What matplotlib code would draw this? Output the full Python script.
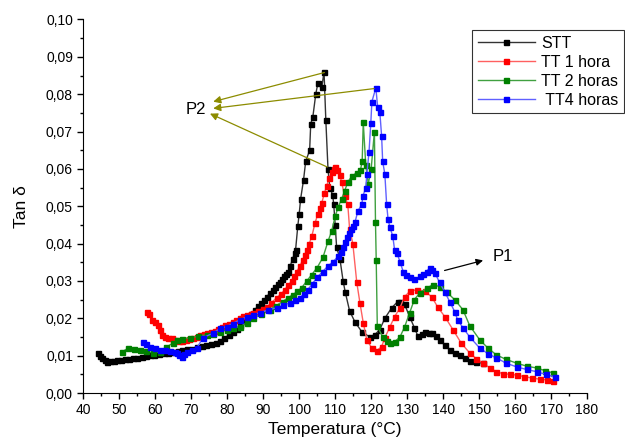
import matplotlib
matplotlib.use("Agg")
import matplotlib.pyplot as plt
from matplotlib.ticker import MultipleLocator, FuncFormatter

plt.rcParams["font.family"] = ["Liberation Sans", "DejaVu Sans"]

# STT
stt_t = [44.1, 44.6, 45.2, 45.9, 46.6, 47.5, 48.4, 49.3, 50.5, 51.6, 52.7, 53.8, 55.0, 56.2,
         57.4, 58.5, 59.7, 61.0, 62.3, 63.6, 64.9, 66.2, 67.5, 68.9, 70.3, 71.6, 72.9, 74.2,
         75.5, 76.8, 78.0, 79.2, 80.4, 81.5, 82.6, 83.6, 84.6, 85.6, 86.6, 87.6, 88.5, 89.3,
         90.1, 91.0, 91.9, 92.6, 93.3, 94.0, 94.6, 95.2, 95.8, 96.4, 96.9, 97.5, 98.2, 98.7,
         99.0, 99.6, 100.0, 100.4, 101.2, 101.8, 102.9, 103.2, 103.8, 104.6, 105.2, 106.3,
         106.9, 107.4, 108.0, 108.5, 109.3, 109.6, 110.0, 110.4, 111.3, 112.2, 112.8, 114.0,
         115.5, 117.4, 119.6, 121.0, 122.4, 123.8, 125.7, 127.4, 128.0, 129.3, 130.7, 132.0,
         133.0, 134.0, 134.9, 136.0, 136.8, 138.0, 139.0, 140.5, 141.8, 143.2, 144.6, 146.0,
         147.4, 149.0, 151.0]
stt_v = [0.0107, 0.0100, 0.0094, 0.0088, 0.0084, 0.0085, 0.0087, 0.0088, 0.0089, 0.0090,
         0.0092, 0.0093, 0.0095, 0.0097, 0.0099, 0.0101, 0.0103, 0.0104, 0.0106, 0.0108,
         0.0110, 0.0112, 0.0114, 0.0117, 0.0119, 0.0122, 0.0125, 0.0128, 0.0131, 0.0135,
         0.0140, 0.0147, 0.0155, 0.0163, 0.0172, 0.0182, 0.0192, 0.0201, 0.0211, 0.0222,
         0.0232, 0.0240, 0.0248, 0.0258, 0.0268, 0.0276, 0.0284, 0.0291, 0.0298, 0.0305,
         0.0312, 0.0318, 0.0325, 0.0340, 0.0360, 0.0374, 0.0384, 0.0446, 0.0480, 0.0520,
         0.0570, 0.0620, 0.0650, 0.0720, 0.0740, 0.0800, 0.0830, 0.0820, 0.0860, 0.0730,
         0.0600, 0.0550, 0.0530, 0.0505, 0.0450, 0.0390, 0.0360, 0.0300, 0.0270, 0.0220,
         0.0190, 0.0164, 0.0150, 0.0156, 0.0170, 0.0200, 0.0228, 0.0245, 0.0245, 0.0237,
         0.0204, 0.0175, 0.0152, 0.0158, 0.0164, 0.0162, 0.0160, 0.0152, 0.0142, 0.0128,
         0.0116, 0.0108, 0.0102, 0.0093, 0.0086, 0.0083, 0.0080]

# TT 1 hora
tt1_t = [57.7, 58.3, 59.0, 59.8, 60.8, 61.4, 62.0, 62.8, 63.5, 64.7, 65.5, 66.5, 67.5, 68.5,
         69.5, 70.5, 71.5, 72.5, 73.5, 74.5, 75.5, 76.5, 77.5, 78.5, 79.5, 80.5, 81.5, 82.5,
         83.5, 84.5, 85.5, 86.5, 87.2, 88.5, 89.8, 91.0, 92.3, 93.7, 95.0, 96.0, 97.0, 97.9,
         98.6, 99.3, 100.2, 101.0, 101.6, 102.1, 102.8, 103.5, 104.4, 105.2, 105.8, 106.3,
         107.0, 107.6, 108.3, 109.0, 109.6, 110.0, 110.6, 111.2, 111.8, 112.6, 113.5, 114.0,
         114.9, 116.0, 116.9, 117.8, 118.8, 120.2, 121.5, 122.9, 123.8, 125.2, 126.5, 128.0,
         129.3, 130.7, 132.7, 134.9, 136.8, 138.5, 140.5, 142.7, 145.0, 147.4, 149.2, 151.0,
         152.9, 154.8, 156.6, 158.5, 160.4, 162.5, 164.7, 166.9, 168.8, 170.5]
tt1_v = [0.0218, 0.0212, 0.0196, 0.0190, 0.0183, 0.0170, 0.0156, 0.0150, 0.0148, 0.0148,
         0.0142, 0.0140, 0.0140, 0.0142, 0.0145, 0.0148, 0.0151, 0.0154, 0.0157, 0.0160,
         0.0163, 0.0167, 0.0171, 0.0176, 0.0181, 0.0186, 0.0191, 0.0196, 0.0201, 0.0205,
         0.0209, 0.0212, 0.0215, 0.0220, 0.0225, 0.0230, 0.0242, 0.0255, 0.0265, 0.0277,
         0.0289, 0.0300, 0.0312, 0.0325, 0.0340, 0.0357, 0.0370, 0.0384, 0.0400, 0.0420,
         0.0455, 0.0480, 0.0495, 0.0510, 0.0535, 0.0554, 0.0575, 0.0592, 0.0600, 0.0605,
         0.0598, 0.0585, 0.0565, 0.0527, 0.0505, 0.0440, 0.0400, 0.0296, 0.0240, 0.0188,
         0.0142, 0.0120, 0.0113, 0.0124, 0.0148, 0.0177, 0.0204, 0.0228, 0.0258, 0.0272,
         0.0277, 0.0272, 0.0258, 0.0230, 0.0204, 0.0170, 0.0134, 0.0107, 0.0092, 0.0080,
         0.0068, 0.0057, 0.0052, 0.0050, 0.0048, 0.0044, 0.0040, 0.0037, 0.0035, 0.0033]

# TT 2 horas
tt2_t = [50.8, 52.4, 54.0, 55.7, 57.5, 59.4, 61.3, 63.0, 64.9, 66.0, 67.5, 69.6, 72.0, 74.4,
         76.0, 78.0, 79.9, 81.5, 83.5, 85.4, 87.2, 89.5, 91.8, 93.6, 95.4, 96.8, 98.2, 99.5,
         100.7, 102.1, 103.5, 105.0, 106.6, 108.0, 109.0, 110.0, 110.8, 111.8, 112.6, 113.5,
         114.6, 116.0, 117.0, 117.5, 117.8, 118.5, 119.2, 120.0, 120.9, 121.2, 121.4, 121.7,
         123.2, 124.3, 125.2, 126.5, 128.0, 129.3, 130.7, 132.0, 133.5, 135.4, 137.1, 139.0,
         141.0, 143.2, 145.5, 147.4, 150.2, 152.5, 154.8, 157.5, 160.4, 163.2, 166.0, 168.3,
         170.5]
tt2_v = [0.0110, 0.0120, 0.0118, 0.0116, 0.0112, 0.0107, 0.0110, 0.0122, 0.0134, 0.0142,
         0.0145, 0.0148, 0.0152, 0.0156, 0.0158, 0.0164, 0.0170, 0.0173, 0.0177, 0.0188,
         0.0200, 0.0212, 0.0223, 0.0234, 0.0245, 0.0254, 0.0263, 0.0272, 0.0282, 0.0300,
         0.0317, 0.0336, 0.0363, 0.0406, 0.0433, 0.0473, 0.0497, 0.0520, 0.0540, 0.0565,
         0.0580, 0.0590, 0.0596, 0.0620, 0.0725, 0.0610, 0.0560, 0.0600, 0.0700, 0.0457,
         0.0357, 0.0180, 0.0150, 0.0138, 0.0134, 0.0137, 0.0150, 0.0177, 0.0215, 0.0250,
         0.0268, 0.0280, 0.0290, 0.0285, 0.0270, 0.0250, 0.0223, 0.0180, 0.0142, 0.0120,
         0.0102, 0.0090, 0.0080, 0.0072, 0.0067, 0.0060, 0.0054]

# TT4 horas
tt4_t = [56.6, 57.5, 58.5, 59.9, 61.3, 62.7, 64.0, 65.5, 66.0, 66.7, 67.4, 68.1, 68.8, 70.1,
         71.5, 73.3, 76.0, 78.0, 79.9, 81.5, 83.5, 85.5, 87.2, 89.0, 91.3, 93.7, 95.6, 97.4,
         98.8, 100.2, 101.3, 102.4, 103.7, 105.0, 106.5, 108.0, 109.5, 110.8, 111.5, 112.2,
         112.7, 113.2, 113.8, 114.3, 114.9, 115.5, 116.3, 117.4, 117.7, 118.5, 118.8, 119.4,
         119.9, 120.2, 121.3, 121.8, 122.4, 122.9, 123.2, 123.8, 124.3, 124.7, 125.2, 126.0,
         126.5, 127.1, 128.0, 128.9, 129.8, 130.7, 132.0, 133.5, 134.5, 135.4, 136.3, 137.0,
         137.7, 139.0, 140.5, 141.8, 143.2, 144.0, 145.5, 147.4, 150.2, 152.5, 154.8, 157.5,
         160.4, 163.2, 166.0, 168.5, 171.0]
tt4_v = [0.0137, 0.0130, 0.0124, 0.0120, 0.0116, 0.0114, 0.0112, 0.0110, 0.0107, 0.0102,
         0.0097, 0.0104, 0.0110, 0.0115, 0.0120, 0.0148, 0.0160, 0.0173, 0.0178, 0.0186,
         0.0196, 0.0204, 0.0210, 0.0215, 0.0222, 0.0228, 0.0235, 0.0242, 0.0248, 0.0255,
         0.0266, 0.0277, 0.0293, 0.0310, 0.0325, 0.0340, 0.0352, 0.0366, 0.0378, 0.0390,
         0.0404, 0.0417, 0.0428, 0.0438, 0.0448, 0.0457, 0.0487, 0.0505, 0.0527, 0.0550,
         0.0586, 0.0645, 0.0723, 0.0780, 0.0817, 0.0766, 0.0753, 0.0688, 0.0620, 0.0586,
         0.0505, 0.0465, 0.0444, 0.0420, 0.0384, 0.0376, 0.0352, 0.0325, 0.0315, 0.0310,
         0.0304, 0.0312, 0.0318, 0.0325, 0.0336, 0.0328, 0.0322, 0.0296, 0.0270, 0.0245,
         0.0218, 0.0196, 0.0175, 0.0150, 0.0120, 0.0105, 0.0094, 0.0080, 0.0070, 0.0063,
         0.0057, 0.0050, 0.0043]

fig = plt.figure(figsize=(6.25, 4.46), dpi=100)
ax = fig.add_axes([0.1333, 0.1188, 0.806, 0.8375])

ms = 3.6
ax.plot(stt_t, stt_v, "-s", color="#333333", lw=1, ms=ms, mfc="black", mec="black", label="STT")
ax.plot(tt1_t, tt1_v, "-s", color="#ff6060", lw=1, ms=ms, mfc="red", mec="red", label="TT 1 hora")
ax.plot(tt2_t, tt2_v, "-s", color="#40a040", lw=1, ms=ms, mfc="green", mec="green", label="TT 2 horas")
ax.plot(tt4_t, tt4_v, "-s", color="#6060ff", lw=1, ms=ms, mfc="blue", mec="blue", label=" TT4 horas")

ax.set_xlim(40, 180)
ax.set_ylim(0, 0.10)
ax.xaxis.set_major_locator(MultipleLocator(10))
ax.xaxis.set_minor_locator(MultipleLocator(5))
ax.yaxis.set_major_locator(MultipleLocator(0.01))
ax.yaxis.set_minor_locator(MultipleLocator(0.005))
ax.yaxis.set_major_formatter(FuncFormatter(lambda v, p: f"{v:.2f}".replace(".", ",")))
ax.tick_params(which="major", direction="out", length=4, width=1, labelsize=10)
ax.tick_params(which="minor", direction="out", length=2.5, width=1)
ax.spines["top"].set_visible(False)
ax.spines["right"].set_visible(False)

ax.set_xlabel("Temperatura (°C)", fontsize=12.5, labelpad=3)
ax.set_ylabel("Tan δ", fontsize=12.5, labelpad=12)

# P2 arrows
olive = "#8c8c00"
p2_heads = [(76.1, 0.0780), (76.1, 0.0762), (75.2, 0.0748)]
p2_tails = [(107.0, 0.0858), (120.8, 0.0815), (107.8, 0.0605)]
for h, t in zip(p2_heads, p2_tails):
    ax.annotate("", xy=h, xytext=t,
                arrowprops=dict(arrowstyle="-|>", color=olive, lw=0.9, mutation_scale=11,
                                shrinkA=0, shrinkB=0))
ax.text(71.3, 0.0760, "P2", fontsize=12, ha="center", va="center")

# P1 arrow
ax.annotate("", xy=(151.1, 0.0355), xytext=(140.4, 0.0328),
            arrowprops=dict(arrowstyle="-|>", color="black", lw=0.9, mutation_scale=10,
                            shrinkA=0, shrinkB=0))
ax.text(156.6, 0.0366, "P1", fontsize=12, ha="center", va="center")

leg = fig.legend(loc="upper left", bbox_to_anchor=(472 / 625, 1 - 30 / 446), fontsize=11.5,
                 frameon=True, fancybox=False, edgecolor="black", handlelength=3.6,
                 handletextpad=0.4, borderpad=0.35, labelspacing=0.25, numpoints=1,
                 borderaxespad=0)
leg.get_frame().set_linewidth(0.8)

fig.savefig("out.png", dpi=100)
